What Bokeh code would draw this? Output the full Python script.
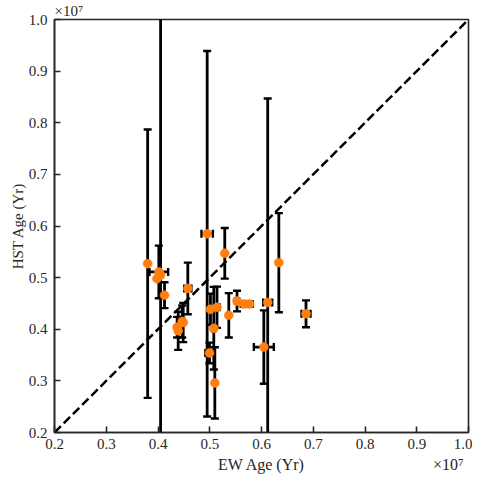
import numpy as np
from bokeh.plotting import figure
from bokeh.models import FixedTicker, LinearAxis, Range1d
from bokeh.embed import file_html
from bokeh.resources import INLINE

# values in units of 10^7 yr
offset_exponent = 7
offset_text = "×10⁷"
x_label = "EW Age (Yr)"
y_label = "HST Age (Yr)"
ew_age = [0.380, 0.4016, 0.398, 0.405, 0.4126, 0.4576, 0.495, 0.529, 0.612, 0.6335,
          0.686, 0.6045, 0.566, 0.577, 0.5527, 0.5368, 0.5014, 0.514, 0.5078, 0.4995,
          0.5098, 0.437, 0.439, 0.4468, 0.4487]
hst_age = [0.527, 0.511, 0.498, 0.505, 0.466, 0.479, 0.585, 0.547, 0.452, 0.529,
           0.430, 0.3655, 0.449, 0.449, 0.4547, 0.427, 0.4387, 0.4426, 0.402, 0.354,
           0.296, 0.404, 0.397, 0.415, 0.413]
ew_err = [0.0, 0.018, 0.0, 0.0, 0.0, 0.007, 0.011, 0.0, 0.0087, 0.0,
          0.0087, 0.0193, 0.006, 0.006, 0.004, 0.0, 0.0, 0.005, 0.004, 0.008,
          0.0, 0.0, 0.0, 0.004, 0.0]
hst_err = [0.260, 0.051, 0.0, 0.600, 0.025, 0.050, 0.354, 0.049, 0.395, 0.096,
           0.026, 0.071, 0.0, 0.0, 0.020, 0.043, 0.030, 0.040, 0.080, 0.020,
           0.069, 0.020, 0.037, 0.031, 0.038]
tick_labels = ["0.2", "0.3", "0.4", "0.5", "0.6", "0.7", "0.8", "0.9", "1.0"]
one_to_one = [0.2, 1.0]
axis_limits = [0.2, 1.0]

S = 10 ** offset_exponent
x = np.array(ew_age) * S
y = np.array(hst_age) * S
xe = np.array(ew_err) * S
ye = np.array(hst_err) * S
ticks = [int(round(float(t) * S)) for t in tick_labels]
lo, hi = axis_limits[0] * S, axis_limits[1] * S

FONT = "Liberation Serif"
TXT = "#262626"

p = figure(width=472, height=480,
           x_range=Range1d(lo, hi), y_range=Range1d(lo, hi),
           output_backend="svg", toolbar_location=None,
           min_border_left=54, min_border_right=4, min_border_top=18, min_border_bottom=48)
p.grid.visible = False
p.outline_line_color = TXT
p.outline_line_width = 1.6
p.background_fill_color = "white"
p.border_fill_color = "white"

# offset text above the y axis
p.title.text = offset_text
p.title.align = "left"
p.title.text_font = FONT
p.title.text_font_size = "15px"
p.title.text_font_style = "normal"
p.title.text_color = TXT
p.title.standoff = 1

for ax in (p.xaxis[0], p.yaxis[0]):
    ax.ticker = FixedTicker(ticks=ticks)
    ax.major_label_overrides = {t: lab for t, lab in zip(ticks, tick_labels)}
    ax.major_tick_in = 6
    ax.major_tick_out = 0
    ax.minor_tick_line_color = None
    ax.axis_line_color = TXT
    ax.axis_line_width = 1.6
    ax.major_tick_line_color = TXT
    ax.major_tick_line_width = 1.6
    ax.major_label_text_font = FONT
    ax.major_label_text_font_size = "15px"
    ax.major_label_text_color = TXT
    ax.major_label_standoff = 7
    ax.axis_label_text_font = FONT
    ax.axis_label_text_font_size = "15px"
    ax.axis_label_text_font_style = "normal"
    ax.axis_label_text_color = TXT
p.xaxis[0].major_label_standoff = 6
p.yaxis[0].axis_label = y_label
p.yaxis[0].axis_label_standoff = 0

# second row below the x axis: axis title centred, offset text at the right
label_pos = [int(round((lo + hi) / 2)), int(round(hi - 0.039 * S))]
ax2 = LinearAxis(ticker=FixedTicker(ticks=label_pos),
                 major_label_overrides={label_pos[0]: x_label, label_pos[1]: offset_text},
                 axis_line_color=None, major_tick_line_color=None, minor_tick_line_color=None,
                 major_tick_in=0, major_tick_out=0, major_label_standoff=4,
                 major_label_text_font=FONT, major_label_text_font_size="16px",
                 major_label_text_color=TXT)
p.add_layout(ax2, "below")

# one-to-one line
p.line(np.array(one_to_one) * S, np.array(one_to_one) * S,
       line_color="black", line_width=2.5, line_dash="9 4")

# vertical error bars
vm = ye > 0
p.segment(x[vm], y[vm] - ye[vm], x[vm], y[vm] + ye[vm], line_color="black", line_width=2.8)
p.scatter(np.concatenate([x[vm], x[vm]]), np.concatenate([y[vm] - ye[vm], y[vm] + ye[vm]]),
          marker="dash", size=8, line_color="black", line_width=2.4)
# horizontal error bars
hm = xe > 0
p.segment(x[hm] - xe[hm], y[hm], x[hm] + xe[hm], y[hm], line_color="black", line_width=2.8)
p.scatter(np.concatenate([x[hm] - xe[hm], x[hm] + xe[hm]]), np.concatenate([y[hm], y[hm]]),
          marker="dash", angle=np.pi / 2, size=8, line_color="black", line_width=2.4)

# data points
p.scatter(x, y, size=9, fill_color="#ff7f0e", line_color="#ff7f0e", line_width=0.5)

open("out.html", "w").write(file_html(p, INLINE))
